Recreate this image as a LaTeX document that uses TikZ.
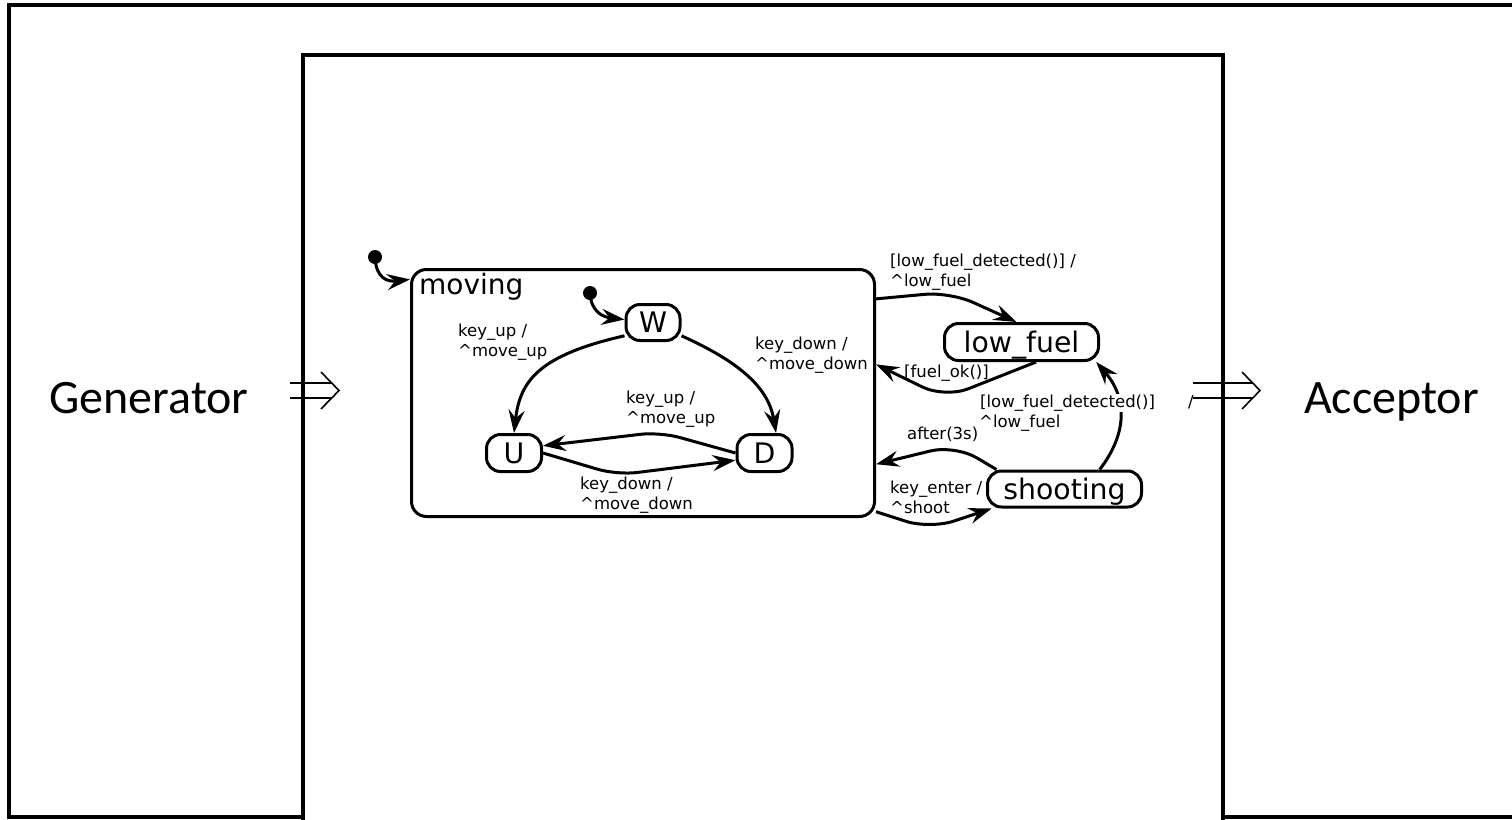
\documentclass[tikz,border=0pt]{standalone}
\usepackage{fontspec}
\setmainfont{DejaVu Sans}
\newfontfamily\genfont{Carlito}
\usetikzlibrary{arrows.meta}
\tikzset{
  frame/.style={line width=4pt},
  statebox/.style={draw, line width=3pt, rounded corners=14pt, inner sep=0pt,
    text height=20pt, text depth=0pt, font=\fontsize{28.3}{34}\selectfont},
  trans/.style={line width=3pt, -{Stealth[length=23pt,width=16pt,inset=8pt]}},
  lbl/.style={font=\fontsize{16.5}{20}\selectfont, align=left, inner sep=0pt, anchor=west},
  initdot/.style={circle, fill=black, inner sep=0pt, minimum size=14pt},
  bigtxt/.style={font=\genfont\fontsize{48}{57}\selectfont, inner sep=0pt},
  dblarrow/.style={line width=1.6pt},
}
\begin{document}
\begin{tikzpicture}[x=1pt,y=-1pt]
\useasboundingbox (0,0) rectangle (1512,819);
\begin{scope}
  \clip (0,0) rectangle (1512,819);
  \draw[frame] (9,5) rectangle (1540,817);
  \draw[frame, fill=white] (303,55) rectangle (1223,850);
\end{scope}

% outer texts
\node[bigtxt, anchor=base] (gen) at (149,413) {Generator};
\node[bigtxt, anchor=base] (acc) at (1391.5,413) {Acceptor};

% double arrows
\coordinate (inL) at (339,390.5);
\coordinate (inR) at (1260,390.5);
\draw[dblarrow] (290,383) -- (332,383) (290,398) -- (332,398)
  (321,372) -- (inL) -- (321,409);
\draw[dblarrow] (1193,383) -- (1253,383) (1193,398) -- (1253,398)
  (1242,372) -- (inR) -- (1242,409);

% composite state
\node[draw, line width=3pt, rounded corners=15pt, minimum width=463pt,
  minimum height=247pt, inner sep=0pt] (mov) at (643,393) {};
\node[anchor=base west, inner sep=0pt, font=\fontsize{28}{34}\selectfont]
  (movlbl) at (419,294) {moving};

% states
\node[statebox, minimum width=54pt, minimum height=36pt] (W) at (653,322.5) {W};
\node[statebox, minimum width=55pt, minimum height=37pt] (U) at (514,453) {U};
\node[statebox, minimum width=55pt, minimum height=37pt] (D) at (764.5,453) {D};
\node[statebox, minimum width=154pt, minimum height=37pt] (LF) at (1021.5,342) {low\_fuel};
\node[statebox, minimum width=154pt, minimum height=36pt] (SH) at (1064.5,489) {shooting};

% initial pseudo-states
\node[initdot] (i0) at (375,257) {};
\node[initdot] (i1) at (590,293) {};

% transitions
\draw[trans] (i0.center) .. controls (376,279) and (388,282) .. (mov.154.6);
\draw[trans] (i1.center) .. controls (591,312) and (603,317) .. (W.174);
\draw[trans] (W.205) .. controls (540,355) and (520,380) .. (U.north);
\draw[trans] (W.335) .. controls (735,360) and (768,385) .. (D.60);
\draw[trans, rounded corners=20pt] (D.west) -- (660,432) -- (U.14);
\draw[trans, rounded corners=20pt] (U.east) -- (617,475) -- (D.194);
\draw[trans, rounded corners=25pt] (mov.22) -- (950,292) -- (LF.104);
\draw[trans, rounded corners=25pt] (LF.306) -- (945,398) -- (mov.7);
\draw[trans] (SH.29) .. controls (1130,430) and (1125,395) .. (LF.345);
\draw[trans, rounded corners=25pt] (SH.164) -- (955,445) -- (mov.343.3);
\draw[trans, rounded corners=25pt] (mov.333) -- (930,529) -- (SH.195);

% labels
\node[lbl] (l1) at (458,342) {key\_up /\\\textasciicircum move\_up};
\node[lbl] (l2) at (755,355) {key\_down /\\\textasciicircum move\_down};
\node[lbl] (l3) at (626,409) {key\_up /\\\textasciicircum move\_up};
\node[lbl] (l4) at (580,495) {key\_down /\\\textasciicircum move\_down};
\node[lbl] (l5) at (890,272) {[low\_fuel\_detected()] /\\\textasciicircum low\_fuel};
\node[lbl] (l6) at (904,373) {[fuel\_ok()]};
\node[lbl] (l7) at (979,412.5) {{\setlength\fboxsep{1pt}\colorbox{white}{[low\_fuel\_detected()]}}\hspace{32pt}/\\\textasciicircum low\_fuel};
\node[lbl] (l8) at (907,434) {after(3s)};
\node[lbl] (l9) at (890,497) {key\_enter /\\\textasciicircum shoot};
\end{tikzpicture}
\end{document}
